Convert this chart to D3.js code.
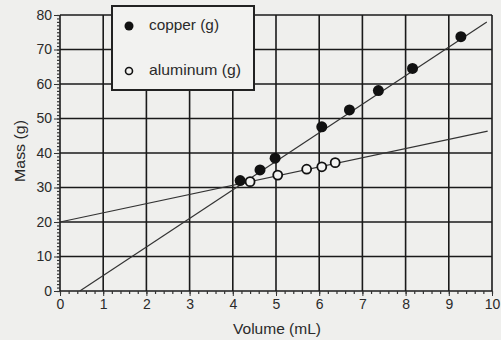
<!DOCTYPE html>
<html>
<head>
<meta charset="utf-8">
<script src="https://cdn.jsdelivr.net/npm/d3@7"></script>
<style>
  body { margin: 0; background: #efefed; }
  svg { display: block; }
  text { font-family: "Liberation Sans", Arial, sans-serif; fill: #2a2a2a; }
</style>
</head>
<body>
<div id="chart"></div>
<script>
// data
const copperVolume = [4.17, 4.63, 4.98, 6.06, 6.70, 7.37, 8.16, 9.28];
const copperMass = [32.0, 35.1, 38.5, 47.6, 52.5, 58.1, 64.5, 73.7];
const aluminumVolume = [4.40, 5.04, 5.71, 6.06, 6.37];
const aluminumMass = [31.7, 33.6, 35.3, 36.0, 37.2];

// best-fit lines drawn on the chart (slope, intercept)
const copperFit = [8.28, -3.8];
const aluminumFit = [2.66, 20];

const xTicks = [0, 1, 2, 3, 4, 5, 6, 7, 8, 9, 10];
const yTicks = [0, 10, 20, 30, 40, 50, 60, 70, 80];

const width = 501;
const height = 340;
const margin = { top: 15, right: 9, bottom: 49, left: 60 };

const svg = d3.select("#chart")
    .append("svg")
    .attr("width", width)
    .attr("height", height);

const x = d3.scaleLinear().domain([0, 10]).range([margin.left, width - margin.right]);
const y = d3.scaleLinear().domain([0, 80]).range([height - margin.bottom, margin.top]);

// grid
svg.append("g")
    .selectAll("line")
    .data(xTicks)
    .enter().append("line")
    .attr("x1", d => x(d)).attr("x2", d => x(d))
    .attr("y1", y(0)).attr("y2", y(80))
    .attr("stroke", "#1a1a1a")
    .attr("stroke-width", 1.6);

svg.append("g")
    .selectAll("line")
    .data(yTicks)
    .enter().append("line")
    .attr("x1", x(0)).attr("x2", x(10))
    .attr("y1", d => y(d)).attr("y2", d => y(d))
    .attr("stroke", "#1a1a1a")
    .attr("stroke-width", 1.6);

// minor ticks
svg.append("g")
    .attr("transform", `translate(0,${y(0)})`)
    .call(d3.axisBottom(x).ticks(50).tickSize(3).tickFormat(""))
    .call(g => g.select(".domain").remove())
    .selectAll("line").attr("stroke", "#333").attr("stroke-width", 1.2);

svg.append("g")
    .attr("transform", `translate(${x(0)},0)`)
    .call(d3.axisLeft(y).ticks(80).tickSize(3).tickFormat(""))
    .call(g => g.select(".domain").remove())
    .selectAll("line").attr("stroke", "#333").attr("stroke-width", 1.2);

// major axes
const xAxis = svg.append("g")
    .attr("transform", `translate(0,${y(0)})`)
    .call(d3.axisBottom(x).tickValues(xTicks).tickSize(5).tickPadding(3));
xAxis.select(".domain").remove();
xAxis.selectAll("text").style("font-size", "14px").attr("fill", "#333");
xAxis.selectAll("line").attr("stroke", "#333");

const yAxis = svg.append("g")
    .attr("transform", `translate(${x(0)},0)`)
    .call(d3.axisLeft(y).tickValues(yTicks).tickSize(6).tickPadding(2));
yAxis.select(".domain").remove();
yAxis.selectAll("text").style("font-size", "14px").attr("fill", "#333");
yAxis.selectAll("line").attr("stroke", "#333");

// fit lines
const line = d3.line().x(d => x(d[0])).y(d => y(d[1]));
const copperStart = -copperFit[1] / copperFit[0];
svg.append("path")
    .attr("d", line([[copperStart, 0], [9.88, copperFit[0] * 9.88 + copperFit[1]]]))
    .attr("stroke", "#333").attr("stroke-width", 1.2).attr("fill", "none");
svg.append("path")
    .attr("d", line([[0, aluminumFit[1]], [9.9, aluminumFit[0] * 9.9 + aluminumFit[1]]]))
    .attr("stroke", "#333").attr("stroke-width", 1.2).attr("fill", "none");

// points
svg.append("g")
    .selectAll("circle")
    .data(aluminumVolume.map((v, i) => [v, aluminumMass[i]]))
    .enter().append("circle")
    .attr("cx", d => x(d[0])).attr("cy", d => y(d[1]))
    .attr("r", 4.5)
    .attr("fill", "#f4f4f2").attr("stroke", "#111").attr("stroke-width", 1.8);

svg.append("g")
    .selectAll("circle")
    .data(copperVolume.map((v, i) => [v, copperMass[i]]))
    .enter().append("circle")
    .attr("cx", d => x(d[0])).attr("cy", d => y(d[1]))
    .attr("r", 5.5)
    .attr("fill", "#111");

// legend
const legend = svg.append("g");
legend.append("rect")
    .attr("x", 112).attr("y", 6).attr("width", 142).attr("height", 84)
    .attr("fill", "#f2f2f0").attr("stroke", "#222").attr("stroke-width", 2);
legend.append("circle").attr("cx", 129).attr("cy", 26).attr("r", 4.5).attr("fill", "#111");
legend.append("text").attr("x", 149).attr("y", 30).style("font-size", "15px")
    .attr("textLength", 70).attr("lengthAdjust", "spacingAndGlyphs").text("copper (g)");
legend.append("circle").attr("cx", 129).attr("cy", 71).attr("r", 3.5)
    .attr("fill", "#f2f2f0").attr("stroke", "#111").attr("stroke-width", 1.6);
legend.append("text").attr("x", 149).attr("y", 75).style("font-size", "15px")
    .attr("textLength", 92).attr("lengthAdjust", "spacingAndGlyphs").text("aluminum (g)");

// axis titles
svg.append("text")
    .attr("x", 277).attr("y", 334)
    .attr("text-anchor", "middle")
    .style("font-size", "15px")
    .attr("textLength", 88).attr("lengthAdjust", "spacingAndGlyphs")
    .text("Volume (mL)");
svg.append("text")
    .attr("transform", "translate(25,151) rotate(-90)")
    .attr("text-anchor", "middle")
    .style("font-size", "15px")
    .attr("textLength", 62).attr("lengthAdjust", "spacingAndGlyphs")
    .text("Mass (g)");
</script>
</body>
</html>
